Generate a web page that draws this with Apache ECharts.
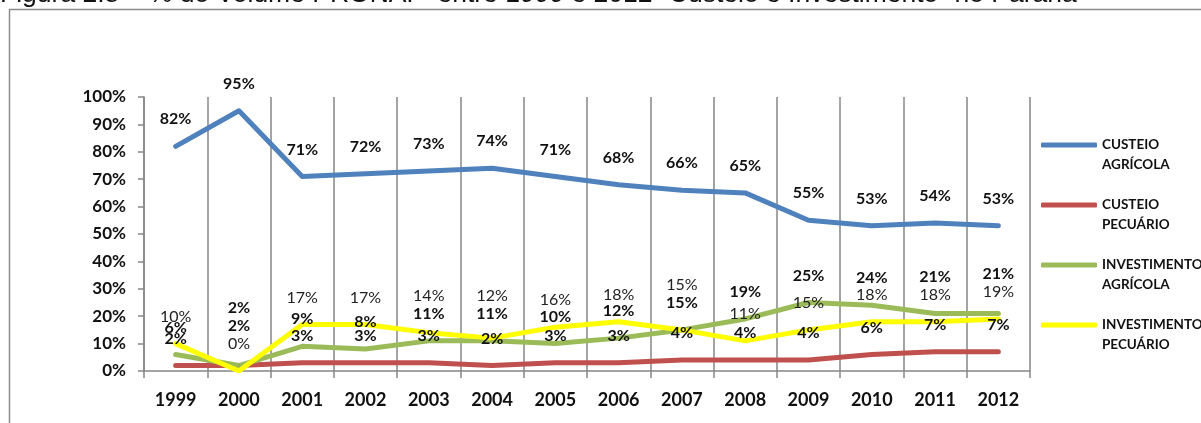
<!DOCTYPE html>
<html>
<head>
<meta charset="utf-8">
<script src="https://cdn.jsdelivr.net/npm/echarts@6/dist/echarts.min.js"></script>
<style>
  html, body { margin: 0; padding: 0; background: #fff; }
  #chart { width: 1201px; height: 423px; }
</style>
</head>
<body>
<div id="chart"></div>
<script>
// Anos (categorias do eixo X)
const years = ['1999', '2000', '2001', '2002', '2003', '2004', '2005', '2006', '2007', '2008', '2009', '2010', '2011', '2012'];

// Participação (%) no volume do PRONAF por modalidade
const custeioAgricola      = [82, 95, 71, 72, 73, 74, 71, 68, 66, 65, 55, 53, 54, 53];
const custeioPecuario      = [2, 2, 3, 3, 3, 2, 3, 3, 4, 4, 4, 6, 7, 7];
const investimentoAgricola = [6, 2, 9, 8, 11, 11, 10, 12, 15, 19, 25, 24, 21, 21];
const investimentoPecuario = [10, 0, 17, 17, 14, 12, 16, 18, 15, 11, 15, 18, 18, 19];

// Eixo Y
const yMin = 0, yMax = 100, yStep = 10;

const seriesNames = ['CUSTEIO\nAGRÍCOLA', 'CUSTEIO\nPECUÁRIO', 'INVESTIMENTO\nAGRÍCOLA', 'INVESTIMENTO\nPECUÁRIO'];
const seriesValues = [custeioAgricola, custeioPecuario, investimentoAgricola, investimentoPecuario];
const seriesColors = ['#4F81BD', '#C0504D', '#9BBB59', '#FFFF00'];
const labelWeights = ['bold', 'bold', 'bold', 'normal'];

const FONT = 'Lato, "Open Sans", sans-serif';
const LIFT = 27;      // distância do rótulo acima do ponto
const GRID_COLOR = '#868686';

const chart = echarts.init(document.getElementById('chart'), null, { renderer: 'canvas' });

function buildSeries(offsets) {
  return seriesValues.map((vals, s) => ({
    name: seriesNames[s],
    type: 'line',
    data: vals.map((v, i) => ({
      value: v,
      label: { offset: [0, offsets ? offsets[s][i] : -LIFT] }
    })),
    symbol: 'circle',
    symbolSize: 2,
    showSymbol: true,
    itemStyle: { color: seriesColors[s] },
    lineStyle: { color: seriesColors[s], width: 5, cap: 'round', join: 'round' },
    label: {
      show: true,
      position: 'inside',
      formatter: p => p.value + '%',
      fontFamily: FONT,
      fontSize: 16,
      fontWeight: labelWeights[s],
      color: s === 3 ? '#222' : '#111'
    },
    emphasis: { disabled: true },
    silent: true,
    z: 2
  }));
}

const option = {
  animation: false,
  backgroundColor: '#fff',
  textStyle: { fontFamily: FONT },
  graphic: [
    {
      type: 'text',
      left: 0,
      top: -19,
      style: {
        text: 'Figura 2.8 – % do Volume PRONAF  entre 1999 e 2012 -Custeio e Investimento- no Paraná',
        font: '26.5px "Liberation Sans", Arial, sans-serif',
        fill: '#111'
      }
    },
    {
      type: 'rect',
      shape: { x: 9.5, y: 9.5, width: 1300, height: 600 },
      style: { fill: 'none', stroke: '#8c8c8c', lineWidth: 1.5 },
      silent: true
    }
  ],
  legend: {
    orient: 'vertical',
    left: 1041,
    top: 115,
    padding: 0,
    itemGap: 0,
    itemWidth: 56,
    itemHeight: 5,
    icon: 'roundRect',
    selectedMode: false,
    data: seriesNames,
    // linha em branco à frente: a primeira linha do texto fica alinhada ao traço
    formatter: name => '\n' + name,
    textStyle: {
      fontFamily: FONT,
      fontSize: 13.5,
      fontWeight: 'bold',
      color: '#111',
      lineHeight: 20
    }
  },
  grid: { left: 144, right: 171, top: 97, bottom: 52 },
  xAxis: {
    type: 'category',
    data: years,
    boundaryGap: true,
    axisLine: { show: true, lineStyle: { color: GRID_COLOR, width: 1.5 } },
    axisTick: { show: true, alignWithLabel: false, length: 7, lineStyle: { color: GRID_COLOR, width: 1.5 } },
    splitLine: { show: true, lineStyle: { color: GRID_COLOR, width: 1.5 } },
    axisLabel: {
      margin: 20,
      fontFamily: FONT,
      fontSize: 18,
      fontWeight: 'bold',
      color: '#111'
    }
  },
  yAxis: {
    type: 'value',
    min: yMin,
    max: yMax,
    interval: yStep,
    axisLine: { show: true, lineStyle: { color: GRID_COLOR, width: 1.5 } },
    axisTick: { show: true, length: 6, lineStyle: { color: GRID_COLOR, width: 1.5 } },
    splitLine: { show: false },
    axisLabel: {
      margin: 18,
      formatter: '{value}%',
      fontFamily: FONT,
      fontSize: 17,
      fontWeight: 'bold',
      color: '#111'
    }
  },
  series: buildSeries(null)
};

chart.setOption(option);

// Afasta rótulos que se sobrepõem no mesmo ano: o de maior valor sobe.
const offsets = seriesValues.map(() => new Array(years.length).fill(-LIFT));
for (let i = 0; i < years.length; i++) {
  const entries = seriesValues.map((vals, s) => {
    const py = chart.convertToPixel({ yAxisIndex: 0 }, vals[i]);
    return { s, v: vals[i], py, y: py - LIFT };
  });
  entries.sort((a, b) => (a.v - b.v) || (a.s - b.s));
  for (let k = 1; k < entries.length; k++) {
    const prev = entries[k - 1].y;
    if (prev - entries[k].y < 10) entries[k].y = prev - 18;
  }
  entries.forEach(e => { offsets[e.s][i] = e.y - e.py; });
}
chart.setOption({ series: buildSeries(offsets) });
</script>
</body>
</html>
